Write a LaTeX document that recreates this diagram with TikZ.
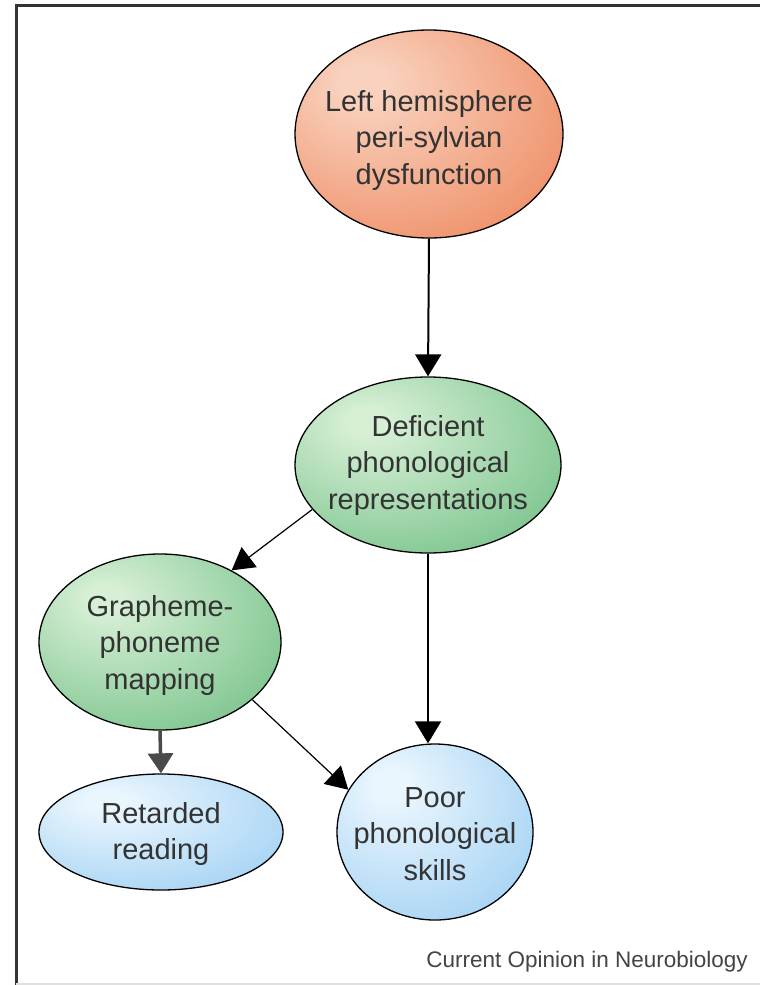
\documentclass[tikz,border=0pt]{standalone}
\usepackage{fontspec}
\setmainfont{Liberation Sans}
\usetikzlibrary{arrows.meta,shapes.geometric}
\definecolor{orL}{HTML}{F9D2BF}
\definecolor{orD}{HTML}{EE8C63}
\definecolor{grL}{HTML}{D6EFD5}
\definecolor{grD}{HTML}{7BC48D}
\definecolor{blL}{HTML}{EAF6FE}
\definecolor{blD}{HTML}{A2D1F3}
\definecolor{txtc}{HTML}{333333}
\definecolor{capc}{HTML}{444444}
\definecolor{framec}{HTML}{333333}
\definecolor{graya}{HTML}{4A4A4A}
\pgfdeclareradialshading{orball}{\pgfpoint{-13bp}{13bp}}{color(0bp)=(orL); color(4bp)=(orL); color(40bp)=(orD); color(80bp)=(orD)}
\pgfdeclareradialshading{grball}{\pgfpoint{-12bp}{13bp}}{color(0bp)=(grL); color(4bp)=(grL); color(38bp)=(grD); color(80bp)=(grD)}
\pgfdeclareradialshading{blball}{\pgfpoint{-12bp}{14bp}}{color(0bp)=(blL); color(4bp)=(blL); color(40bp)=(blD); color(80bp)=(blD)}
\begin{document}
\begin{tikzpicture}[x=1pt,y=-1pt,
  ball/.style={ellipse, draw=black, line width=1.3pt, inner sep=0pt},
  lbl/.style={align=center, inner sep=0pt, font=\fontsize{29}{36.5}\selectfont, text=txtc},
  mainarr/.style={-{Triangle[width=26pt,length=22pt]}, line width=2pt, black},
  diagarr/.style={-{Triangle[width=25pt,length=22pt]}, line width=1.2pt, black},
  grayarr/.style={-{Triangle[width=25pt,length=20pt]}, line width=3.5pt, graya}]
\useasboundingbox (0,0) rectangle (760,985);
\fill[white] (0,0) rectangle (760,985);
% frame
\draw[line width=3pt, framec] (16,985) -- (16,5) -- (760,5);
\draw[line width=2pt, black!12] (16,983.5) -- (760,983.5);
% ellipses
\node[ball, shading=orball, minimum width=268pt, minimum height=208pt] (e1) at (429,134) {};
\node[ball, shading=grball, minimum width=266pt, minimum height=176pt] (e2) at (428,465) {};
\node[ball, shading=grball, minimum width=242pt, minimum height=176pt] (e3) at (160,642) {};
\node[ball, shading=blball, minimum width=244pt, minimum height=116pt] (e4) at (161,832) {};
\node[ball, shading=blball, minimum width=196pt, minimum height=176pt] (e5) at (435,832) {};
% labels
\node[lbl] (t1) at (429,140) {Left hemisphere\\peri-sylvian\\dysfunction};
\node[lbl] (t2) at (428,465) {Deficient\\phonological\\representations};
\node[lbl] (t3) at (160,645) {Grapheme-\\phoneme\\mapping};
\node[lbl] (t4) at (161,834) {Retarded\\reading};
\node[lbl] (t5) at (435,834) {Poor\\phonological\\skills};
% connectors
\draw[mainarr] (e1.south) -- (e2.north);
\draw[mainarr] (e2.south) -- (e2.south |- e5.north);
\draw[diagarr] (e2.201) -- (e3.45);
\draw[diagarr] (e3.-32) -- (e5.154);
\draw[grayarr] (e3.south) -- (e4.north);
% caption
\node[anchor=base east, inner sep=0pt, font=\fontsize{22.5}{26}\selectfont, text=capc] (cap) at (748,967) {Current Opinion in Neurobiology};
\end{tikzpicture}
\end{document}
